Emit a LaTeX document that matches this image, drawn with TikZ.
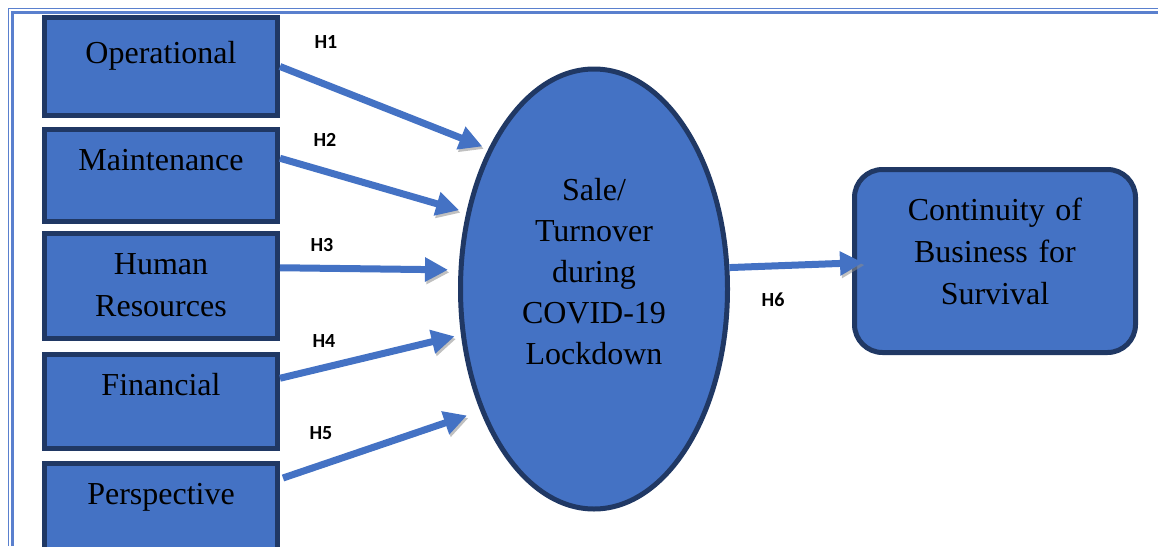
\documentclass[tikz,border=0pt]{standalone}
\usepackage{fontspec}
\setmainfont{Liberation Serif}
\newfontfamily\hfont{Carlito}
\usetikzlibrary{arrows.meta,shapes.geometric}
\definecolor{boxblue}{HTML}{4472C4}
\definecolor{boxnavy}{HTML}{203864}
\definecolor{framec}{HTML}{5A80CE}

\begin{document}
\begin{tikzpicture}[x=1pt,y=-1pt,
    factor/.style={draw=boxnavy,fill=boxblue,line width=5pt,anchor=north west,
      text width=233pt,inner xsep=0pt,inner ysep=0pt,align=center,text height=41pt,
      font=\fontsize{32}{42}\selectfont},
    link/.style={-{Triangle[length=23pt,width=23pt]},line width=7pt,draw=boxblue,
      preaction={draw=black!45,opacity=.55,transform canvas={shift={(1.5pt,-2.5pt)}}}},
    hyp/.style={font=\hfont\bfseries\fontsize{20}{24}\selectfont}]
  \useasboundingbox (0,0) rectangle (1158,546);

  % frame
  \draw[framec,line width=1.2pt] (8.5,546) -- (8.5,8.5) -- (1158,8.5);
  \draw[framec,line width=3pt] (12,546) -- (12,12) -- (1158,12);

  % factors
  \node[factor,text height=45.5pt,text depth=52.5pt] (op) at (42,15) {Operational};
  \node[factor,text depth=50.5pt] (mt) at (42,127) {Maintenance};
  \node[factor,text depth=63.5pt] (hr) at (42,231) {Human\\Resources};
  \node[factor,text depth=52.5pt] (fin) at (42,352) {Financial};
  \node[factor,text depth=90pt] (per) at (42,461) {Perspective};

  % mediator and outcome
  \node[ellipse,draw=boxnavy,fill=boxblue,line width=5pt,minimum width=267pt,
    minimum height=440pt,inner sep=0pt,text width=180pt,align=center,
    text height=20pt,text depth=198pt,font=\fontsize{32}{41}\selectfont]
    (sale) at (594,289) {Sale/\\Turnover\\during\\COVID-19\\Lockdown};
  \node[draw=boxnavy,fill=boxblue,line width=5pt,rounded corners=28pt,
    anchor=north west,text width=281pt,inner sep=0pt,align=center,
    text height=50.5pt,text depth=132.5pt,font=\fontsize{32}{42}\selectfont]
    (cont) at (852,167) {Continuity of\\Business for\\Survival};

  % hypotheses
  \draw[link,shorten >=6.5pt] (op.east) -- (sale.127);
  \draw[link,shorten >=7.5pt] ([yshift=17pt]mt.east) -- (sale.149);
  \draw[link,shorten >=10.5pt] ([yshift=18pt]hr.east) -- (sale.172);
  \draw[link,shorten >=6.5pt] ([yshift=23pt]fin.east) -- (sale.199);
  \draw[link,shorten >=14pt] ([xshift=3pt,yshift=51pt]per.east) -- (sale.227);
  \draw[link,shorten >=-11pt] (sale.9) -- ([yshift=-2pt]cont.west);

  \node[hyp] (h1) at (326,42) {H1};
  \node[hyp] (h2) at (325,140) {H2};
  \node[hyp] (h3) at (322,245) {H3};
  \node[hyp] (h4) at (324,341) {H4};
  \node[hyp] (h5) at (321,433) {H5};
  \node[hyp] (h6) at (773,300) {H6};
\end{tikzpicture}
\end{document}
